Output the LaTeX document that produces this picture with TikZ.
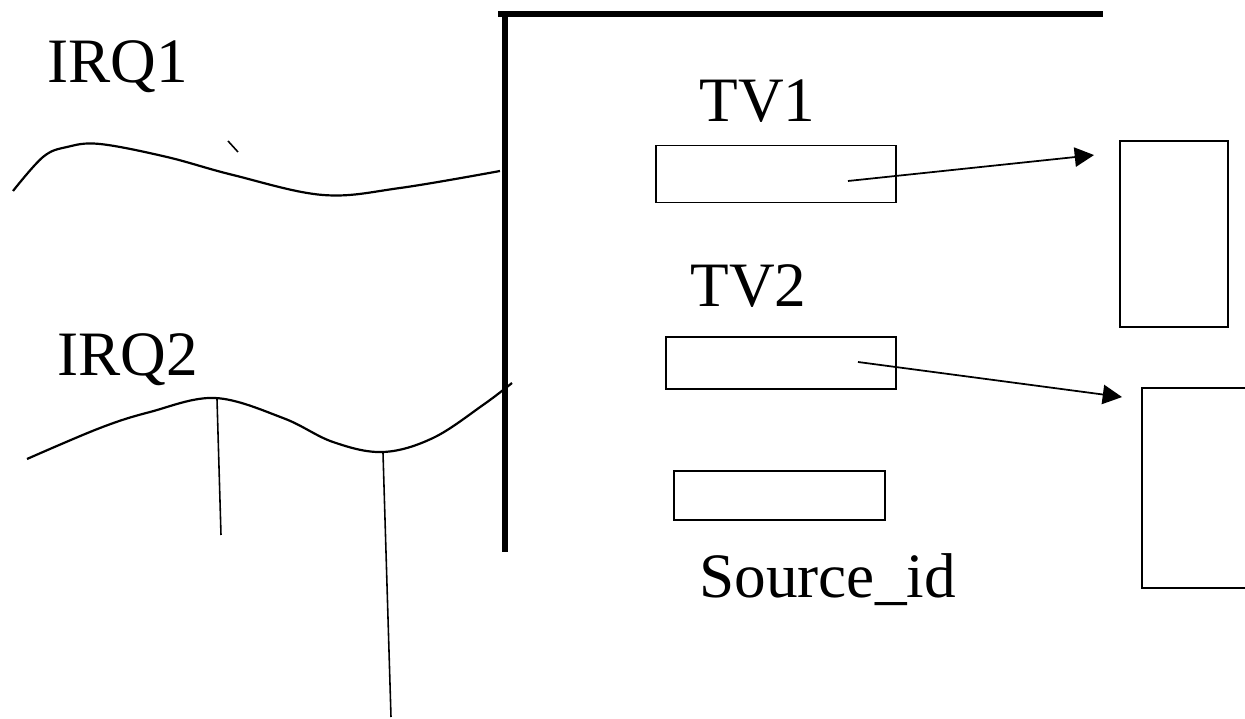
\documentclass[tikz,border=0pt]{standalone}
\usepackage{fontspec}
\setmainfont{Liberation Serif}
\usepackage{tikz}
\usetikzlibrary{arrows.meta, positioning}

\begin{document}
\begin{tikzpicture}[
    x=0.02cm, y=-0.02cm,
    slot/.style={draw, line width=1.1pt, inner sep=0pt},
    membox/.style={draw, line width=1.1pt, inner sep=0pt},
    arr/.style={-{Triangle[length=11pt, width=11pt]}, line width=1pt},
    lbl/.style={font=\fontsize{36}{40}\selectfont, inner sep=0pt, anchor=base west},
    wave/.style={line width=1.25pt},
    drop/.style={line width=0.9pt},
    bar/.style={line width=3.4pt},
]
    \useasboundingbox (0,0) rectangle (1245,719);

    % the two interrupt lines
    \node[lbl] (irq1) at (47,83) {IRQ1};
    \node[lbl] (irq2) at (57,376) {IRQ2};

    \draw[wave] plot[smooth, tension=0.6] coordinates {(13,191) (43,157) (67,147)
        (100,144) (167,157) (233,175) (323,195) (400,188) (500,171)};
    \draw[drop] (228,141) -- (238,152);

    \draw[wave] plot[smooth, tension=0.6] coordinates {(27,459) (100,428) (150,412)
        (215,398) (283,418) (333,442) (383,452) (433,438) (483,405) (512,383)};
    \draw[drop] (217,399) -- (221,535);
    \draw[drop] (383,453) -- (391,717);

    % table frame
    \draw[bar] (498,14) -- (1103,14);
    \draw[bar] (505,14) -- (505,552);

    % table entries
    \node[lbl] (tv1) at (699,122) {TV1};
    \node[slot, minimum width=4.8cm, minimum height=1.14cm] (tv1box) at (776,174) {};
    \node[lbl] (tv2) at (690,307) {TV2};
    \node[slot, minimum width=4.6cm, minimum height=1.04cm] (tv2box) at (781,363) {};
    \node[slot, minimum width=4.22cm, minimum height=0.98cm] (srcbox) at (779.5,495.5) {};
    \node[lbl] (srcid) at (699,598) {Source\_id};

    % handler blocks
    \node[membox, minimum width=2.16cm, minimum height=3.72cm] (memA) at (1174,234) {};
    \node[membox, minimum width=2.3cm, minimum height=4cm] (memB) at (1199.5,488) {};

    \draw[arr] ([xshift=1.44cm, yshift=-0.14cm]tv1box.center)
        -- ([xshift=-0.5cm, yshift=-0.3cm]memA.north west);
    \draw[arr] ([xshift=1.54cm, yshift=0.02cm]tv2box.center)
        -- ([xshift=-0.38cm, yshift=-0.2cm]memB.north west);
\end{tikzpicture}
\end{document}
